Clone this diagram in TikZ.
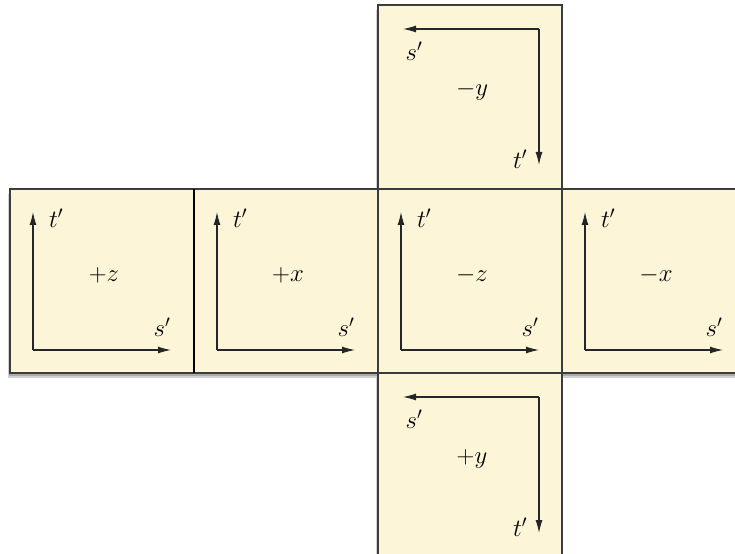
\documentclass[tikz,border=0pt]{standalone}
\usetikzlibrary{arrows.meta,calc}
\definecolor{facefill}{HTML}{FCF5D8}
\definecolor{faceline}{HTML}{3C3C3C}
\tikzset{
  face/.style={draw=faceline,fill=facefill,line width=1.1bp,minimum size=184bp,inner sep=0pt,outer sep=0pt},
  faceshade/.style={fill=black,opacity=0.18},
  axis/.style={draw=black!85,line width=1.1bp,-{Latex[length=13bp,width=7bp]}},
  lbl/.style={font=\fontsize{25}{28}\selectfont,inner sep=0pt},
}
\begin{document}
\begin{tikzpicture}[x=1bp,y=-1bp]
\useasboundingbox (0,0) rectangle (735,554);
\foreach \l/\t in {10/189,194/189,378/189,562/189,378/5,378/373}
{
  \fill[faceshade] (\l-1,\t+3) rectangle ++(184,184);
  \fill[faceshade] (\l-2,\t+5) rectangle ++(184,184);
}
\foreach \n/\l/\t/\s in {pz/10/189/{+z},px/194/189/{+x},mz/378/189/{-z},mx/562/189/{-x},my/378/5/{-y},py/378/373/{+y}}
{
  \node[face] (\n) at (\l+92,\t+92) {};
  \node[lbl] (\n-name) at ($(\n)+(2,-6)$) {$\s$};
}
\draw[line width=1.7bp,black] (pz.north east) -- (pz.south east);
\foreach \n in {pz,px,mz,mx}
{
  \coordinate (\n-o) at ($(\n.north west)+(23,161)$);
  \coordinate (\n-t) at ($(\n.north west)+(23,23)$);
  \coordinate (\n-s) at ($(\n.north west)+(161,161)$);
  \draw[axis] (\n-o) -- (\n-t);
  \draw[axis] (\n-o) -- (\n-s);
  \node[lbl] (\n-tl) at ($(\n.north west)+(46,29)$) {$t'$};
  \node[lbl] (\n-sl) at ($(\n.north west)+(152,138)$) {$s'$};
}
\foreach \n in {my,py}
{
  \coordinate (\n-o) at ($(\n.north west)+(161,24)$);
  \coordinate (\n-s) at ($(\n.north west)+(25,24)$);
  \coordinate (\n-t) at ($(\n.north west)+(161,160)$);
  \draw[axis] (\n-o) -- (\n-s);
  \draw[axis] (\n-o) -- (\n-t);
  \node[lbl] (\n-sl) at ($(\n.north west)+(36,46)$) {$s'$};
  \node[lbl] (\n-tl) at ($(\n.north west)+(142,154)$) {$t'$};
}
\end{tikzpicture}
\end{document}
